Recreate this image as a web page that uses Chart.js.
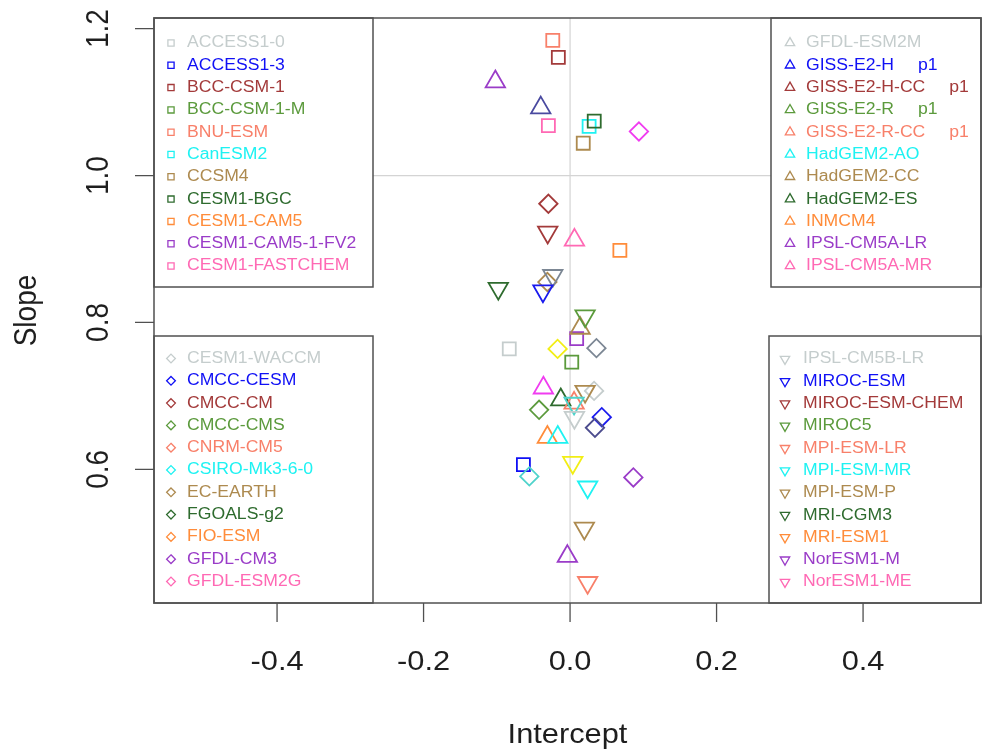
<!DOCTYPE html>
<html>
<head>
<meta charset="utf-8">
<script src="https://cdn.jsdelivr.net/npm/chart.js@4.4.1/dist/chart.umd.min.js"></script>
<style>
  body { margin: 0; background: #fff; }
</style>
</head>
<body>
<canvas id="plot" width="983" height="756"></canvas>
<script>
// legend: 4 groups of 11 models (square, diamond, triangle up, triangle down)
var modelNames = [
  "ACCESS1-0", "ACCESS1-3", "BCC-CSM-1", "BCC-CSM-1-M", "BNU-ESM", "CanESM2",
  "CCSM4", "CESM1-BGC", "CESM1-CAM5", "CESM1-CAM5-1-FV2", "CESM1-FASTCHEM",
  "CESM1-WACCM", "CMCC-CESM", "CMCC-CM", "CMCC-CMS", "CNRM-CM5", "CSIRO-Mk3-6-0",
  "EC-EARTH", "FGOALS-g2", "FIO-ESM", "GFDL-CM3", "GFDL-ESM2G",
  "GFDL-ESM2M", "GISS-E2-H", "GISS-E2-H-CC", "GISS-E2-R", "GISS-E2-R-CC",
  "HadGEM2-AO", "HadGEM2-CC", "HadGEM2-ES", "INMCM4", "IPSL-CM5A-LR", "IPSL-CM5A-MR",
  "IPSL-CM5B-LR", "MIROC-ESM", "MIROC-ESM-CHEM", "MIROC5", "MPI-ESM-LR", "MPI-ESM-MR",
  "MPI-ESM-P", "MRI-CGM3", "MRI-ESM1", "NorESM1-M", "NorESM1-ME"
];
var modelTags = {"GISS-E2-H": "p1", "GISS-E2-H-CC": "p1", "GISS-E2-R": "p1", "GISS-E2-R-CC": "p1"};
var legendColors = ["#c5cdcd", "#1010f5", "#a33a3a", "#5b9a3c", "#f8806a", "#1ef2f2",
  "#ad8a4f", "#2e6b2e", "#ff8c3a", "#9a3cc8", "#ff69b4"];
var groupShapes = ["square", "diamond", "triangle", "triangleDown"];

// points
var intercepts = [
  -0.083, -0.0637, -0.016, 0.0023, -0.0236, 0.026, 0.018, 0.033, 0.068, 0.009, -0.0296,
  0.0328, 0.0433, -0.0296, -0.0423, 0.036, -0.0556, -0.031, 0.034, -0.017, 0.0864, 0.094,
  -0.102, -0.04, 0.006, 0.0137, -0.0364, -0.0127, 0.0055, -0.031, -0.0168, -0.0037,
  -0.0305, -0.0236, -0.098, -0.037, 0.0205, 0.0205, 0.0055, 0.006, 0.0037, 0.024, 0.0195, 0.024
];
var slopes = [
  0.764, 0.6064, 1.161, 0.746, 1.184, 1.067, 1.044, 1.074, 0.898, 0.778, 1.068,
  0.7068, 0.671, 0.9616, 0.681, 0.765, 0.5904, 0.855, 0.6566, 0.764, 0.589, 1.06,
  1.1277, 1.0922, 0.9122, 0.7922, 0.7109, 0.6948, 0.6902, 0.6437, 0.6437, 0.4815,
  0.9228, 0.8638, 0.8463, 0.8428, 0.8088, 0.7061, 0.6898, 0.6705, 0.6093, 0.5758, 0.5198, 0.4458
];
var markerShapes = [
  "square","square","square","square","square","square","square","square","square","square","square",
  "diamond","diamond","diamond","diamond","diamond","diamond","diamond","diamond","diamond","diamond","diamond",
  "triangle","triangle","triangle","triangle","triangle","triangle","triangle","triangle","triangle","triangle",
  "triangleDown","triangleDown","triangleDown","triangleDown","triangleDown","triangleDown",
  "triangleDown","triangleDown","triangleDown","triangleDown","triangleDown","triangleDown"
];
var markerColors = [
  "#c5cdcd", "#1010f5", "#a33a3a", "#5b9a3c", "#f8806a", "#1ef2f2", "#ad8a4f", "#2e6b2e", "#ff8c3a", "#9a3cc8", "#ff69b4",
  "#c5cdcd", "#1a1aee", "#a33a3a", "#5b9a3c", "#7c8794", "#4fd3cb", "#ad8a4f", "#4c4c8e", "#f2ee14", "#9a3cc8", "#f03cf0",
  "#9a3cc8", "#4a4aa0", "#ff69b4", "#ad8a4f", "#f03cf0", "#2e6b2e", "#f8806a", "#ff8c3a", "#1ef2f2", "#9a3cc8",
  "#a33a3a", "#7c8794", "#2e6b2e", "#1a1aee", "#5b9a3c", "#ad8a4f", "#4fd3cb", "#c5cdcd", "#f2ee14", "#1ef2f2", "#ad8a4f", "#f8806a"
];

var xTicks = [-0.4, -0.2, 0.0, 0.2, 0.4];
var yTicks = [0.6, 0.8, 1.0, 1.2];

var frameColor = "#505050";
var textColor = "#1e1e1e";

var points = [];
for (var i = 0; i < intercepts.length; i++) {
  points.push({x: intercepts[i], y: slopes[i]});
}

function stretchText(ctx, txt, x, y, align, rotated) {
  ctx.save();
  ctx.translate(x, y);
  ctx.scale(1.1, 1);
  if (rotated) ctx.rotate(-Math.PI / 2);
  ctx.textAlign = align;
  ctx.fillText(txt, 0, 0);
  ctx.restore();
}

function drawMarker(ctx, shape, x, y, s) {
  ctx.beginPath();
  if (shape == "square") {
    ctx.rect(x - s, y - s, 2 * s, 2 * s);
  } else if (shape == "diamond") {
    var d = s * 1.414;
    ctx.moveTo(x, y - d); ctx.lineTo(x + d, y); ctx.lineTo(x, y + d); ctx.lineTo(x - d, y);
    ctx.closePath();
  } else {
    var r = s * 1.755, dir = shape == "triangle" ? 1 : -1;
    ctx.moveTo(x, y - dir * r);
    ctx.lineTo(x + r * 0.866, y + dir * r / 2);
    ctx.lineTo(x - r * 0.866, y + dir * r / 2);
    ctx.closePath();
  }
  ctx.stroke();
}

var rPlot = {
  id: "rPlot",
  beforeDatasetsDraw: function(chart) {
    var ctx = chart.ctx, a = chart.chartArea;
    var x0 = chart.scales.x.getPixelForValue(0);
    var y1 = chart.scales.y.getPixelForValue(1.0);
    ctx.save();
    ctx.strokeStyle = "#d4d4d4";
    ctx.lineWidth = 1.2;
    ctx.beginPath();
    ctx.moveTo(x0, a.top); ctx.lineTo(x0, a.bottom);
    ctx.moveTo(a.left, y1); ctx.lineTo(a.right, y1);
    ctx.stroke();
    ctx.restore();
  },
  afterDatasetsDraw: function(chart) {
    var ctx = chart.ctx, a = chart.chartArea;
    var xs = chart.scales.x, ys = chart.scales.y;
    ctx.save();

    // four legend boxes, one per marker shape
    var boxes = [
      {left: a.left, top: a.top, w: 219, h: 269, mx: 17, tx: 33, first: 25},
      {left: a.left, top: a.bottom - 267, w: 219, h: 267, mx: 17, tx: 33, first: 22.5},
      {left: a.right - 210, top: a.top, w: 210, h: 269, mx: 19, tx: 35, first: 25},
      {left: a.right - 212, top: a.bottom - 267, w: 212, h: 267, mx: 16, tx: 34, first: 23}
    ];
    ctx.font = "16px 'Liberation Sans', Arial, sans-serif";
    ctx.textBaseline = "middle";
    for (var g = 0; g < 4; g++) {
      var b = boxes[g];
      ctx.fillStyle = "#fff";
      ctx.fillRect(b.left, b.top, b.w, b.h);
      ctx.strokeStyle = frameColor;
      ctx.lineWidth = 1.5;
      ctx.strokeRect(b.left, b.top, b.w, b.h);
      for (var k = 0; k < 11; k++) {
        var name = modelNames[g * 11 + k];
        var yy = b.top + b.first + k * 22.3;
        ctx.strokeStyle = legendColors[k];
        ctx.fillStyle = legendColors[k];
        ctx.lineWidth = 1.3;
        drawMarker(ctx, groupShapes[g], b.left + b.mx, yy, 3.1);
        stretchText(ctx, name, b.left + b.tx, yy, "left");
        if (modelTags[name]) {
          var wName = ctx.measureText(name).width * 1.1;
          stretchText(ctx, modelTags[name], b.left + b.tx + wName + 24, yy, "left");
        }
      }
    }

    // frame
    ctx.strokeStyle = frameColor;
    ctx.lineWidth = 1.5;
    ctx.strokeRect(a.left, a.top, a.right - a.left, a.bottom - a.top);

    // axes, R style
    ctx.lineWidth = 1.3;
    ctx.fillStyle = textColor;
    ctx.font = "28px 'Liberation Sans', Arial, sans-serif";
    ctx.textBaseline = "alphabetic";
    ctx.beginPath();
    xTicks.forEach(function(v) {
      var px = xs.getPixelForValue(v);
      ctx.moveTo(px, a.bottom); ctx.lineTo(px, a.bottom + 19);
    });
    yTicks.forEach(function(v) {
      var py = ys.getPixelForValue(v);
      ctx.moveTo(a.left, py); ctx.lineTo(a.left - 19, py);
    });
    ctx.stroke();
    xTicks.forEach(function(v) {
      stretchText(ctx, v.toFixed(1), xs.getPixelForValue(v), a.bottom + 67, "center");
    });
    yTicks.forEach(function(v) {
      stretchText(ctx, v.toFixed(1), a.left - 46, ys.getPixelForValue(v), "center", true);
    });
    stretchText(ctx, "Intercept", (a.left + a.right) / 2, 743, "center");
    stretchText(ctx, "Slope", 36, (a.top + a.bottom) / 2, "center", true);
    ctx.restore();
  }
};

var ctx = document.getElementById("plot");

var config = {
  type: "scatter",
  data: {
    datasets: [
      {
        label: "models",
        data: points,
        pointStyle: markerShapes.map(function(s) { return s == "square" ? "rect" : s == "diamond" ? "rectRot" : "triangle"; }),
        pointRotation: markerShapes.map(function(s) { return s == "triangleDown" ? 180 : 0; }),
        pointRadius: markerShapes.map(function(s) { return s.indexOf("triangle") == 0 ? 11.2 : 9.2; }),
        pointBorderColor: markerColors,
        pointBackgroundColor: "rgba(0,0,0,0)",
        pointBorderWidth: 1.8
      }
    ]
  },
  options: {
    responsive: false,
    animation: false,
    layout: { autoPadding: false, padding: { top: 18, right: 2, left: 0, bottom: 0 } },
    plugins: {
      legend: { display: false },
      tooltip: { enabled: false }
    },
    scales: {
      x: {
        type: "linear", min: -0.568, max: 0.561,
        ticks: { display: false }, grid: { display: false }, border: { display: false },
        afterFit: function(s) { s.height = 153; }
      },
      y: {
        type: "linear", min: 0.418, max: 1.2145,
        ticks: { display: false }, grid: { display: false }, border: { display: false },
        afterFit: function(s) { s.width = 154; }
      }
    }
  },
  plugins: [rPlot]
};

var chart = new Chart(ctx, config);
</script>
</body>
</html>
